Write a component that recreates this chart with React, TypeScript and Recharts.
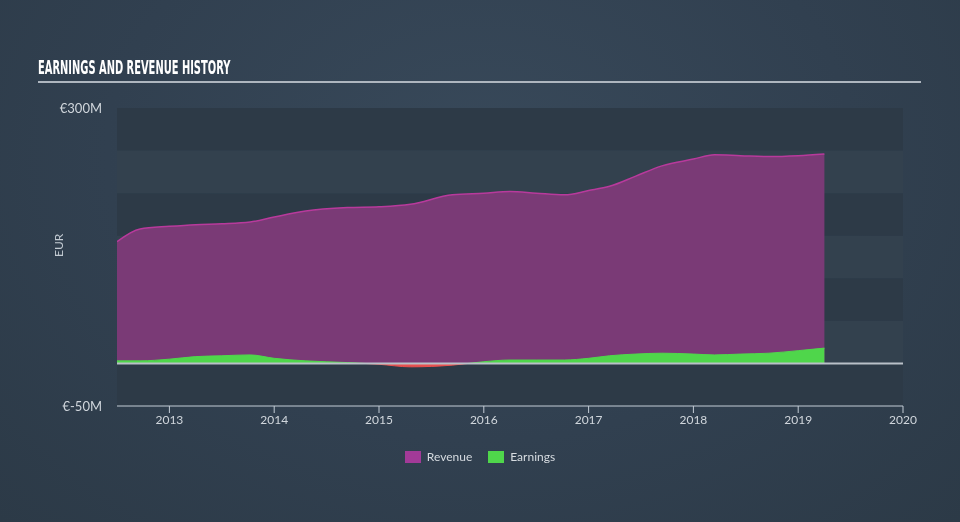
import { AreaChart, Area, XAxis, YAxis, ReferenceArea, ReferenceLine } from 'recharts'

// decimal years
const dates = [
  2012.5, 2012.72, 2013.0, 2013.25, 2013.5, 2013.77, 2014.0, 2014.3, 2014.7, 2015.0, 2015.3,
  2015.7, 2016.0, 2016.25, 2016.5, 2016.77, 2017.0, 2017.2, 2017.45, 2017.7, 2018.0, 2018.2,
  2018.45, 2018.72, 2019.0, 2019.25,
]
const revenue = [
  143, 158, 161, 163, 164, 166, 172, 179, 183, 184, 187,
  198, 200, 202, 200, 198, 203, 208, 220, 232, 240, 245,
  244, 243, 244, 246,
]
const earnings = [
  3, 3, 5, 8, 9, 10, 6, 3, 1, -1, -4,
  -2, 2, 4, 4, 4, 6, 9, 11, 12, 11, 10,
  11, 12, 15, 18,
]

const yearTicks = [2013, 2014, 2015, 2016, 2017, 2018, 2019, 2020]
const yTicks = [-50, 300]
const bandEdges = [-50, 0, 50, 100, 150, 200, 250, 300]

const data = dates.map((d, i) => ({ date: d, revenue: revenue[i], earnings: earnings[i] }))

const eMax = Math.max(...earnings)
const eMin = Math.min(...earnings)
const splitOffset = eMax / (eMax - eMin)

const fmtY = (v: number) => `€${v}M`

export default function App() {
  return (
    <div
      style={{
        position: 'fixed',
        top: 0,
        left: 0,
        width: 960,
        height: 522,
        background: 'radial-gradient(ellipse at 50% 30%, #38495a 0%, #314050 55%, #2c3a47 100%)',
        fontFamily: 'Lato, "Open Sans", sans-serif',
        overflow: 'hidden',
      }}
    >
      <div
        style={{
          position: 'absolute',
          left: 38,
          top: 55,
          color: '#ffffff',
          fontFamily: '"Liberation Sans Narrow", "DejaVu Sans Condensed", sans-serif',
          fontWeight: 700,
          fontSize: 20,
          whiteSpace: 'nowrap',
          transform: 'scaleX(0.55)',
          transformOrigin: 'left center',
        }}
      >
        EARNINGS AND REVENUE HISTORY
      </div>
      <div style={{ position: 'absolute', left: 38, top: 81, width: 883, height: 2, background: '#aeb6bf' }} />

      <AreaChart
        width={960}
        height={522}
        data={data}
        margin={{ top: 108, right: 57, bottom: 86, left: 37 }}
        style={{ position: 'absolute', left: 0, top: 0 }}
      >
        <defs>
          <linearGradient id="earnFill" x1="0" y1="0" x2="0" y2="1">
            <stop offset={splitOffset} stopColor="#4fd64b" stopOpacity={1} />
            <stop offset={splitOffset} stopColor="#e8504f" stopOpacity={1} />
          </linearGradient>
        </defs>
        {bandEdges.slice(0, -1).map((lo, i) => (
          <ReferenceArea
            key={lo}
            y1={lo}
            y2={bandEdges[i + 1]}
            fill={i % 2 === 0 ? '#2d3a47' : '#33414e'}
            fillOpacity={1}
            stroke="none"
            ifOverflow="visible"
          />
        ))}
        <XAxis
          dataKey="date"
          type="number"
          domain={[2012.5, 2020]}
          ticks={yearTicks}
          allowDataOverflow
          height={30}
          stroke="#c3ccd6"
          tick={{ fill: '#d0d6dc', fontSize: 12 }}
          tickSize={7}
          tickMargin={2}
        />
        <YAxis
          type="number"
          domain={[-50, 300]}
          ticks={yTicks}
          width={80}
          axisLine={false}
          tickLine={false}
          tickSize={0}
          tickMargin={15}
          tickFormatter={fmtY}
          tick={{ fill: '#d0d6dc', fontSize: 13 }}
          label={{ value: 'EUR', angle: -90, position: 'insideLeft', offset: 22, fill: '#c3cbd3', fontSize: 12 }}
        />
        <Area
          type="monotone"
          dataKey="revenue"
          stroke="#b83a9c"
          strokeWidth={1.5}
          fill="#7a3a76"
          fillOpacity={1}
          isAnimationActive={false}
          dot={false}
          activeDot={false}
        />
        <Area
          type="monotone"
          dataKey="earnings"
          stroke="url(#earnFill)"
          strokeWidth={1}
          fill="url(#earnFill)"
          fillOpacity={1}
          isAnimationActive={false}
          dot={false}
          activeDot={false}
        />
        <ReferenceLine y={0} stroke="#b9c0c8" strokeWidth={2} />
      </AreaChart>

      <div
        style={{
          position: 'absolute',
          top: 449,
          left: 0,
          width: 960,
          display: 'flex',
          justifyContent: 'center',
          gap: 16,
          fontSize: 12,
          color: '#d6dbe0',
        }}
      >
        {[
          { name: 'Revenue', color: '#a23a98' },
          { name: 'Earnings', color: '#4fd64b' },
        ].map((s) => (
          <div key={s.name} style={{ display: 'flex', alignItems: 'center', gap: 6 }}>
            <div style={{ width: 16, height: 12, background: s.color }} />
            <span>{s.name}</span>
          </div>
        ))}
      </div>
    </div>
  )
}
